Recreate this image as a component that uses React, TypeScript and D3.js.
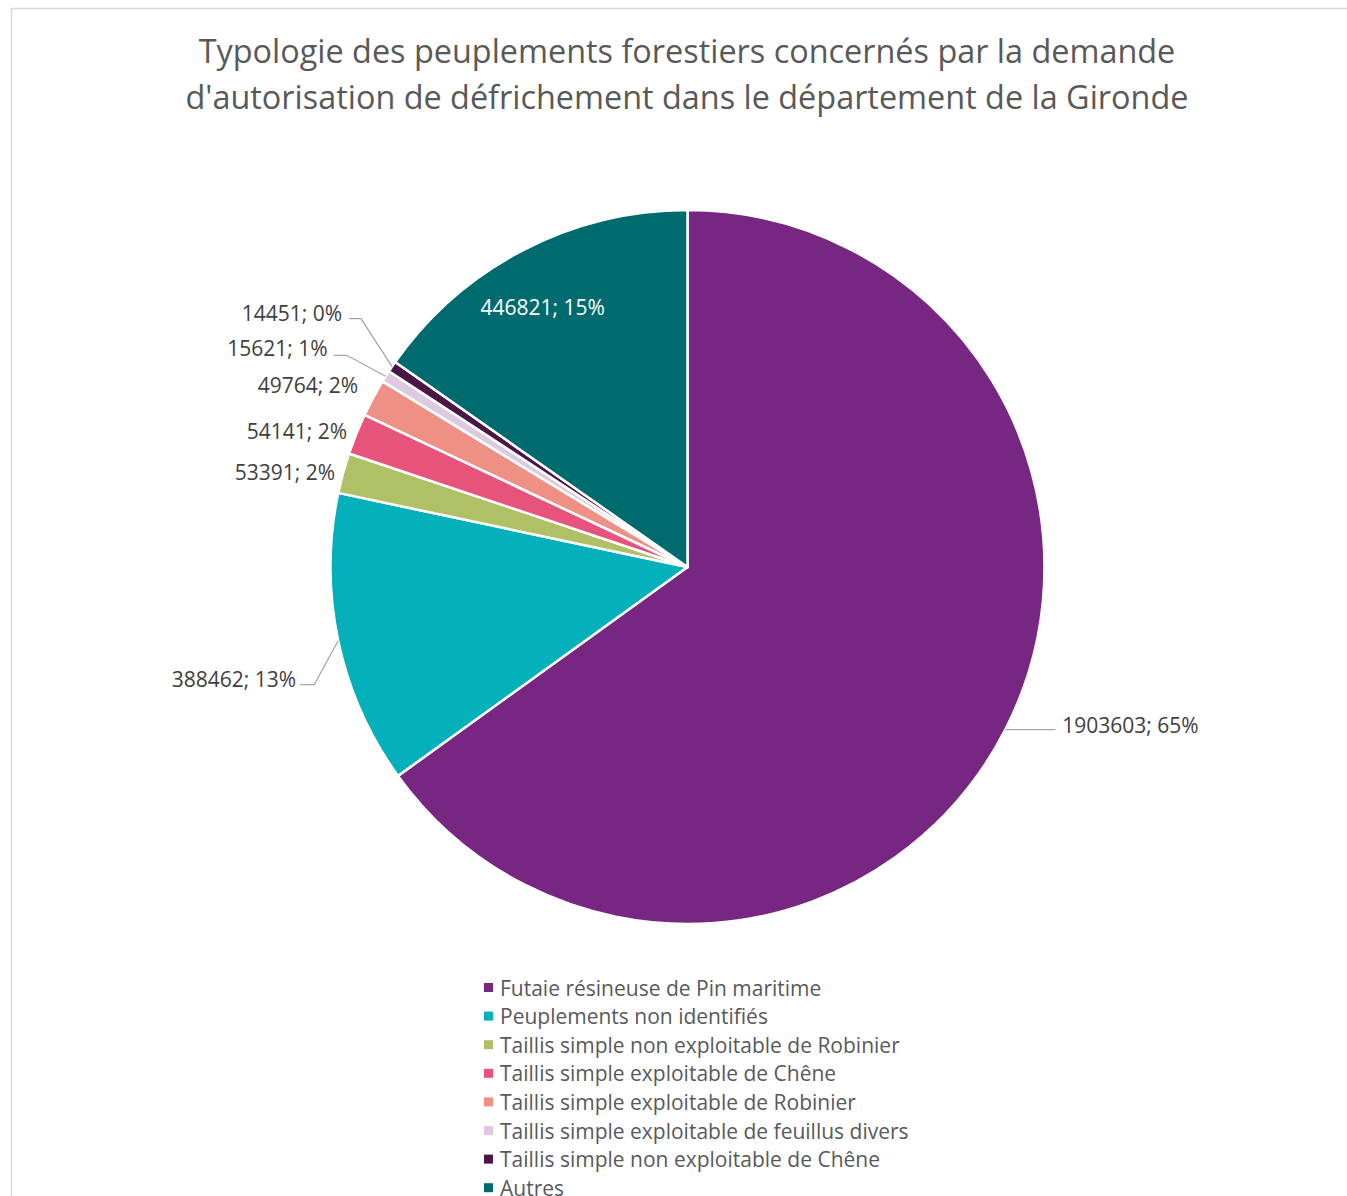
import React from "react";
import * as d3 from "d3";

const categories = [
  "Futaie résineuse de Pin maritime",
  "Peuplements non identifiés",
  "Taillis simple non exploitable de Robinier",
  "Taillis simple exploitable de Chêne",
  "Taillis simple exploitable de Robinier",
  "Taillis simple exploitable de feuillus divers",
  "Taillis simple non exploitable de Chêne",
  "Autres",
];
const values = [1903603, 388462, 53391, 54141, 49764, 15621, 14451, 446821];
const colors = ["#772681", "#04B0BA", "#AFC164", "#E8537C", "#EE9083", "#DDC9E0", "#4A1648", "#006B6E"];
const titleLines = [
  "Typologie des peuplements forestiers concernés par la demande",
  "d'autorisation de défrichement dans le département de la Gironde",
];

// label layout (offsets relative to the slice's mid-angle point on the rim)
type LL = { inside?: boolean; elbow?: [number, number]; end?: [number, number]; text: [number, number]; anchor: string };
const labelLayout: LL[] = [
  { elbow: [50, 0], end: [50, 0], text: [57, -4], anchor: "start" },
  { elbow: [-24, 44], end: [-38, 44], text: [-42, 39], anchor: "end" },
  { text: [-8, 0], anchor: "end" },
  { text: [-9, -2], anchor: "end" },
  { text: [-15, -12], anchor: "end" },
  { elbow: [-39, -21], end: [-52, -21], text: [-58, -27], anchor: "end" },
  { elbow: [-31, -48], end: [-43, -48], text: [-50, -53], anchor: "end" },
  { inside: true, text: [-8, 4], anchor: "middle" },
];

const W = 1347;
const H = 1196;
const cx = 687.5;
const cy = 567;
const R = 357;
const FONT = "'Open Sans', 'Noto Sans', sans-serif";

export default function App() {
  const total = d3.sum(values);
  const pie = d3.pie<number>().sort(null).value((d) => d).startAngle(0).endAngle(2 * Math.PI);
  const arcs = pie(values);
  const arc = d3.arc<d3.PieArcDatum<number>>().innerRadius(0).outerRadius(R);
  const fmtPct = (v: number) => `${Math.round((v / total) * 100)}%`;

  return (
    <svg width={W} height={H} style={{ position: "absolute", left: 0, top: 0, background: "#fff" }}>
      <rect x={11.5} y={8.5} width={W + 20} height={H + 20} fill="#fff" stroke="#d9d9d9" strokeWidth={1.5} />
      <g fill="#595959" fontFamily={FONT} fontSize={32.4} textAnchor="middle">
        {titleLines.map((t, i) => (
          <text key={i} x={687} y={63 + i * 46}>{t}</text>
        ))}
      </g>
      <g transform={`translate(${cx},${cy})`}>
        {arcs.map((a, i) => (
          <path key={i} d={arc(a) || ""} fill={colors[i]} stroke="#fff" strokeWidth={2.5} strokeLinejoin="round" />
        ))}
      </g>
      <g fontFamily={FONT} fontSize={21}>
        {arcs.map((a, i) => {
          const L = labelLayout[i];
          const mid = (a.startAngle + a.endAngle) / 2;
          const label = `${values[i]}; ${fmtPct(values[i])}`;
          if (L.inside) {
            const [x, y] = d3.arc<d3.PieArcDatum<number>>().innerRadius(R * 0.83).outerRadius(R * 0.83).centroid(a);
            return (
              <text key={i} x={cx + x + L.text[0]} y={cy + y + L.text[1] + 7} fill="#fff" textAnchor="middle">{label}</text>
            );
          }
          const px = cx + R * Math.sin(mid);
          const py = cy - R * Math.cos(mid);
          return (
            <g key={i}>
              {L.elbow && L.end && (
                <polyline
                  points={`${px},${py} ${px + L.elbow[0]},${py + L.elbow[1]} ${px + L.end[0]},${py + L.end[1]}`}
                  fill="none"
                  stroke="#a6a6a6"
                  strokeWidth={1.3}
                />
              )}
              <text x={px + L.text[0]} y={py + L.text[1] + 7} fill="#404040" textAnchor={L.anchor as any}>{label}</text>
            </g>
          );
        })}
      </g>
      <g fontFamily={FONT} fontSize={21} fill="#595959">
        {categories.map((c, i) => (
          <g key={i} transform={`translate(484,${988 + i * 28.6})`}>
            <rect x={0} y={-5} width={9} height={9} fill={colors[i]} />
            <text x={16} y={7.5}>{c}</text>
          </g>
        ))}
      </g>
    </svg>
  );
}
